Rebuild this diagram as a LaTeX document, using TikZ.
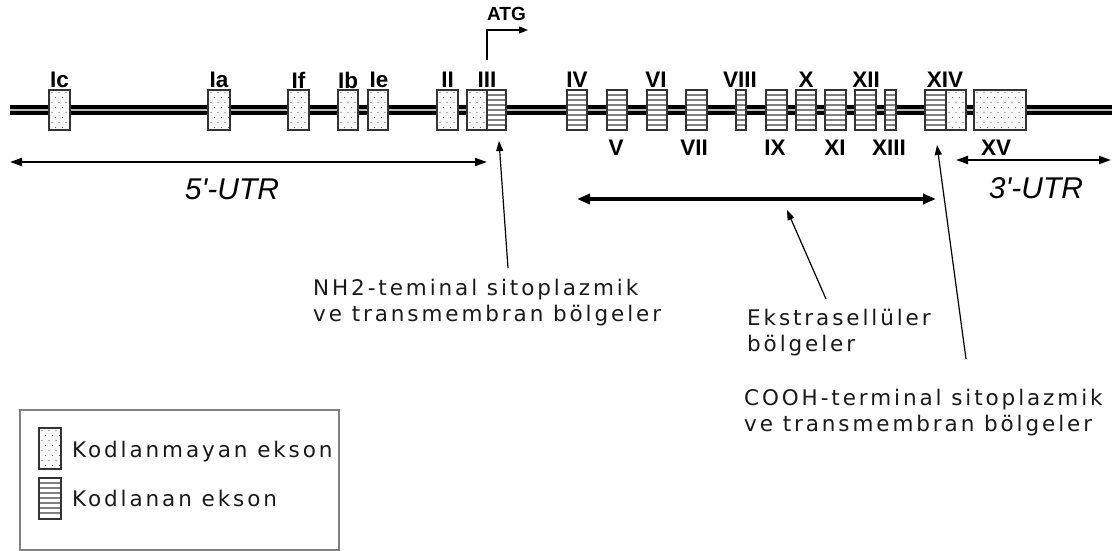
\documentclass[tikz,border=0pt]{standalone}
\usepackage{fontspec}
\usetikzlibrary{arrows.meta}
\newfontfamily\txtfont[LetterSpace=13.5]{DejaVu Sans}
\newfontfamily\lblfont{Liberation Sans}
\begin{document}
\begin{tikzpicture}[x=1pt,y=-1pt,
  backbone/.style={line width=3.5, double=gray!55, double distance=2.2},
  exbase/.style={draw=black!80, line width=1.2, inner sep=0, outer sep=0, minimum height=40},
  noncoding/.style={exbase, fill=gray!5, path picture={
      \foreach \i in {0,...,8}{\foreach \j in {0,...,7}{
        \fill[black!60] ([shift={({3+\i*7+mod(\j,2)*3.5},{2.5+\j*5})}]path picture bounding box.north west) circle (0.65);
      }}}},
  coding/.style={exbase, fill=white, path picture={
      \foreach \k in {1,...,7}{
        \draw[gray, line width=1.1] ([shift={(0,\k*5)}]path picture bounding box.north west) -- ++(60,0);
      }}},
  exlabel/.style={font=\lblfont\bfseries\fontsize{22.5}{22.5}\selectfont, inner sep=0},
  utrlabel/.style={font=\lblfont\itshape\fontsize{30}{30}\selectfont, inner sep=0},
  desc/.style={font=\txtfont\fontsize{21.5}{26}\selectfont, text=black!90, align=left, anchor=west, inner sep=0},
  dimarrow/.style={line width=2, {Triangle[length=12pt,width=8pt]}-{Triangle[length=12pt,width=8pt]}},
  bigarrow/.style={line width=3.5, {Triangle[length=13pt,width=10pt]}-{Triangle[length=13pt,width=10pt]}},
  pointer/.style={line width=1.2, -{Triangle[length=10pt,width=7pt]}}
]
\useasboundingbox (0,0) rectangle (1112,551);

% backbone
\coordinate (bbL) at (10,110);
\coordinate (bbR) at (1112,110);
\draw[backbone] (bbL) -- (bbR);

% exons
\node[noncoding, minimum width=21] (Ic) at (59.5,110) {};
\node[noncoding, minimum width=22] (Ia) at (219,110) {};
\node[noncoding, minimum width=21] (If) at (298.5,110) {};
\node[noncoding, minimum width=20] (Ib) at (348,110) {};
\node[noncoding, minimum width=20] (Ie) at (378,110) {};
\node[noncoding, minimum width=21] (II) at (447.5,110) {};
\node[noncoding, minimum width=20] (IIIa) at (477,110) {};
\node[coding, minimum width=19] (IIIb) at (496.5,110) {};
\node[coding, minimum width=20] (IV) at (577,110) {};
\node[coding, minimum width=20] (V) at (617,110) {};
\node[coding, minimum width=20] (VI) at (657,110) {};
\node[coding, minimum width=21] (VII) at (696.5,110) {};
\node[coding, minimum width=10] (VIII) at (741,110) {};
\node[coding, minimum width=21] (IX) at (776.5,110) {};
\node[coding, minimum width=20] (X) at (806,110) {};
\node[coding, minimum width=21] (XI) at (835.5,110) {};
\node[coding, minimum width=21] (XII) at (865.5,110) {};
\node[coding, minimum width=11] (XIII) at (890.5,110) {};
\node[coding, minimum width=21] (XIVa) at (935.5,110) {};
\node[noncoding, minimum width=20] (XIVb) at (956,110) {};
\node[noncoding, minimum width=52] (XV) at (1000,110) {};

% exon labels
\node[exlabel] (lIc) at (59.5,80) {Ic};
\node[exlabel] (lIa) at (219,80) {Ia};
\node[exlabel] (lIf) at (298.5,80) {If};
\node[exlabel] (lIb) at (348,80) {Ib};
\node[exlabel] (lIe) at (379,80) {Ie};
\node[exlabel] (lII) at (447.5,80) {II};
\node[exlabel] (lIII) at (487,80) {III};
\node[exlabel] (lIV) at (577,80) {IV};
\node[exlabel] (lVI) at (656,80) {VI};
\node[exlabel] (lVIII) at (740,80) {VIII};
\node[exlabel] (lX) at (806,80) {X};
\node[exlabel] (lXII) at (866,80) {XII};
\node[exlabel] (lXIV) at (945,80) {XIV};
\node[exlabel] (lV) at (616,148) {V};
\node[exlabel] (lVII) at (694,148) {VII};
\node[exlabel] (lIX) at (775,148) {IX};
\node[exlabel] (lXI) at (835,148) {XI};
\node[exlabel] (lXIII) at (889,148) {XIII};
\node[exlabel] (lXV) at (996,148) {XV};

% ATG
\coordinate (atgS) at (487,60);
\coordinate (atgE) at (528,30);
\draw[line width=1.3, -{Triangle[length=9pt,width=7pt]}] (atgS) |- (atgE);
\node[exlabel, font=\lblfont\bfseries\fontsize{19}{19}\selectfont] (atg) at (506.5,14) {ATG};

% UTR arrows
\coordinate (u5L) at (10,162);
\coordinate (u5R) at (487,162);
\draw[dimarrow] (u5L) -- (u5R);
\node[utrlabel] (u5) at (232,189) {5'-UTR};
\coordinate (u3L) at (956,160);
\coordinate (u3R) at (1111,160);
\draw[dimarrow] (u3L) -- (u3R);
\node[utrlabel] (u3) at (1036,188) {3'-UTR};

% extracellular arrow
\coordinate (exL) at (577,199);
\coordinate (exR) at (936,199);
\draw[bigarrow] (exL) -- (exR);

% descriptions
\node[desc] (nh2) at (313,303) {NH2-teminal sitoplazmik\\ve transmembran bölgeler};
\node[desc] (extra) at (747,333) {Ekstrasellüler\\bölgeler};
\node[desc] (cooh) at (744,413) {COOH-terminal sitoplazmik\\ve transmembran bölgeler};

% pointers
\coordinate (pNH2) at (508,268);
\coordinate (tNH2) at (499,141);
\draw[pointer] (pNH2) -- (tNH2);
\coordinate (pEX) at (826,299);
\coordinate (tEX) at (787,210);
\draw[pointer] (pEX) -- (tEX);
\coordinate (pCO) at (966,359);
\coordinate (tCO) at (937,145);
\draw[pointer] (pCO) -- (tCO);

% legend
\node[draw=gray, line width=1.5, minimum width=319, minimum height=140, anchor=north west, inner sep=0] (legend) at (19,409) {};
\node[noncoding, minimum width=22, minimum height=41] (legNC) at (50,448.5) {};
\node[coding, minimum width=22, minimum height=41] (legC) at (50,498.5) {};
\node[desc] (legNCt) at (72,452) {Kodlanmayan ekson};
\node[desc] (legCt) at (72,498) {Kodlanan ekson};
\end{tikzpicture}
\end{document}
